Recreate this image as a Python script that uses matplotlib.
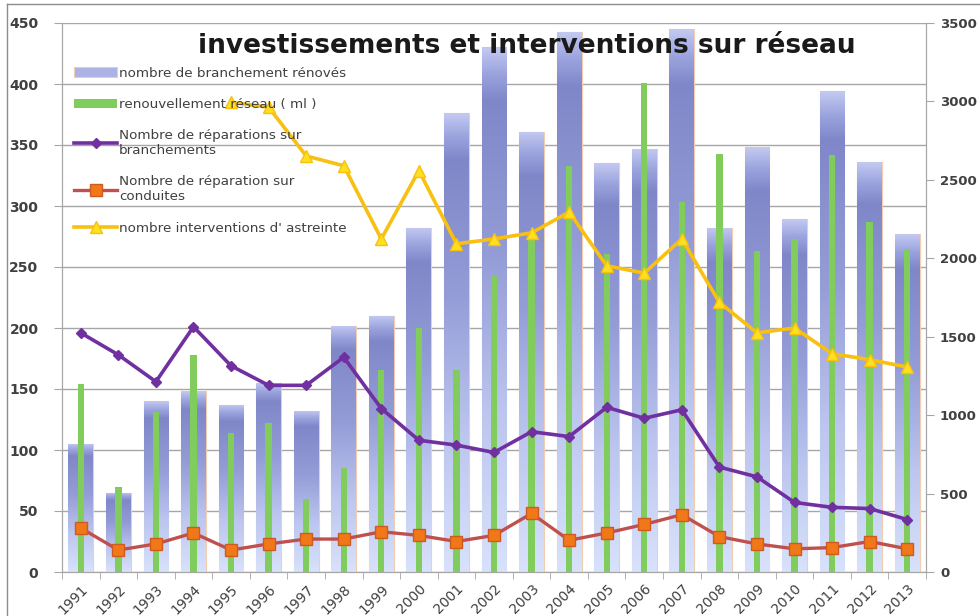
import numpy as np
import matplotlib
matplotlib.use("Agg")
import matplotlib.pyplot as plt
from matplotlib.colors import LinearSegmentedColormap

years = [str(y) for y in range(1991, 2014)]

# nombre de branchement rénovés (left axis)
branchements = [105, 65, 140, 148, 137, 155, 132, 202, 210, 282, 376, 430, 361, 443,
                335, 347, 445, 282, 348, 289, 394, 336, 277]
# renouvellement réseau en ml (right axis)
renouvellement = [1200, 545, 1020, 1385, 887, 950, 467, 661, 1290, 1555, 1290, 1890,
                  2155, 2590, 2030, 3120, 2357, 2668, 2045, 2123, 2660, 2232, 2061]
# réparations sur branchements
rep_branchements = [196, 178, 156, 201, 169, 153, 153, 176, 134, 108, 104, 98, 115, 111,
                    135, 126, 133, 86, 78, 57, 53, 52, 43]
# réparations sur conduites
rep_conduites = [36, 18, 23, 32, 18, 23, 27, 27, 33, 30, 25, 30, 48, 26, 32, 39, 47, 29,
                 23, 19, 20, 25, 19]
# interventions d'astreinte (from 1995)
astreinte = [np.nan, np.nan, np.nan, np.nan, 385, 381, 341, 333, 273, 329, 269, 273, 278,
             295, 251, 245, 273, 221, 196, 200, 179, 174, 168]

x = np.arange(len(years))

fig = plt.figure(figsize=(9.8, 6.16), dpi=100)
fig.patch.set_facecolor("white")
pos = [62 / 980, 1 - 572 / 616, (926 - 62) / 980, (572 - 23) / 616]
ax = fig.add_axes(pos)
ax2 = ax.twinx()
ax3 = fig.add_axes(pos, sharex=ax, sharey=ax)
ax3.set_axis_off()

grid_c = "#a6a6a6"
txt_c = "#404040"

# blue bars with a vertical gradient
cmap = LinearSegmentedColormap.from_list("blu", [
    (0.0, "#d8e2fb"), (0.3, "#bcc6ef"), (0.6, "#959dd7"),
    (0.9, "#7f87c9"), (0.95, "#9ba3de"), (1.0, "#c2c9f1")])
grad = np.linspace(0, 1, 256).reshape(-1, 1)
bars = ax.bar(x, branchements, width=0.66, color="#aab2e6", edgecolor="#f2cdb0",
              linewidth=0.8, zorder=2, label="nombre de branchement rénovés")
for b in bars:
    x0, y0 = b.get_x(), b.get_y()
    im = ax.imshow(grad, extent=(x0, x0 + b.get_width(), y0, y0 + b.get_height()),
                   origin="lower", aspect="auto", cmap=cmap, zorder=2.1,
                   interpolation="bicubic")
    im.set_clip_path(b)

ax2.bar(x, renouvellement, width=0.17, color="#80cc5c", zorder=3,
        label="renouvellement réseau ( ml )")

l1, = ax3.plot(x, rep_branchements, color="#7030a0", lw=2.6, marker="D", ms=5.5,
               label="Nombre de réparations sur\nbranchements")
l2, = ax3.plot(x, rep_conduites, color="#c0504d", lw=2.4, marker="s", ms=9,
               mfc="#f07818", mec="#d05a20", label="Nombre de réparation sur\nconduites")
l3, = ax3.plot(x, astreinte, color="#f8c010", lw=2.6, marker="^", ms=8,
               mfc="#ffe020", mec="#f8c010", label="nombre interventions d' astreinte")

ax.set_xlim(-0.5, len(years) - 0.5)
ax.set_ylim(0, 450)
ax.set_yticks(range(0, 451, 50))
ax2.set_ylim(0, 3500)
ax2.set_yticks(range(0, 3501, 500))

ax.yaxis.grid(True, color=grid_c, lw=1.0, zorder=0)
ax.set_axisbelow(True)
for a in (ax, ax2):
    for s in a.spines.values():
        s.set_color(grid_c)
    a.spines["top"].set_visible(False)
ax.set_xticks(x)
ax.set_xticklabels(years, rotation=45, ha="right", rotation_mode="anchor",
                   fontsize=10, color=txt_c)
ax.set_xticks(np.arange(-0.5, len(years), 1), minor=True)
ax.tick_params(axis="x", which="major", length=0, pad=7)
ax.tick_params(axis="x", which="minor", length=5, color=grid_c)
ax.tick_params(axis="y", length=6, color=grid_c, labelsize=10, labelcolor=txt_c, pad=11)
ax2.tick_params(axis="y", length=6, color=grid_c, labelsize=9.5, labelcolor=txt_c, pad=4)
for lab in ax.get_yticklabels() + ax2.get_yticklabels():
    lab.set_fontweight("bold")

ax3.text(0.538, 0.958, "investissements et interventions sur réseau",
         transform=ax.transAxes, ha="center", va="center", fontsize=19,
         fontweight="bold", color="#1a1a1a", zorder=10)

handles = [bars, ax2.containers[0], l1, l2, l3]
leg = ax3.legend(handles=handles, loc="upper left", bbox_to_anchor=(0.008, 0.93),
                 frameon=False, fontsize=9.7, labelcolor=txt_c, handlelength=3.2,
                 handletextpad=0.1, labelspacing=1.35, borderaxespad=0)
leg.set_zorder(9)

fig.add_artist(plt.Line2D([7 / 980, 1], [1 - 4 / 616, 1 - 4 / 616], color="#8c8c8c", lw=1))
fig.add_artist(plt.Line2D([7 / 980, 7 / 980], [0, 1 - 4 / 616], color="#8c8c8c", lw=1))

fig.savefig("out.png", dpi=100)
